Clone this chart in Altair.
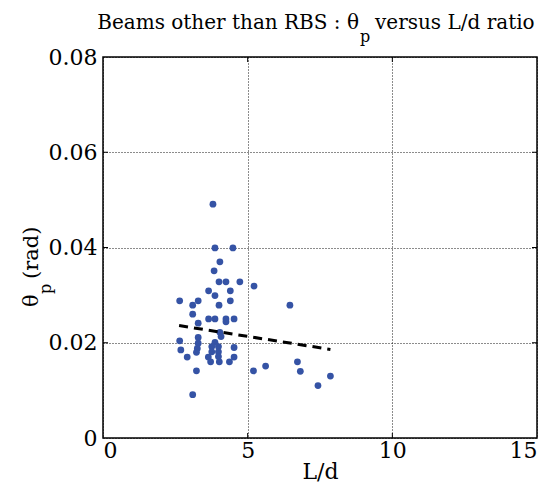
import altair as alt
import pandas as pd

# Scatter data (L/d, theta_p)
ld = [3.80, 3.87, 4.49, 4.04, 3.84, 4.01, 4.25, 4.73, 5.22, 3.65,
      3.87, 4.40, 2.65, 3.10, 3.29, 4.01, 4.40, 6.46, 3.10, 3.65,
      3.87, 4.25, 4.25, 4.53, 3.29, 4.04, 3.29, 2.65, 3.29, 3.26,
      3.23, 2.69, 2.91, 4.08, 3.87, 3.76, 3.99, 3.76, 3.99, 3.64,
      3.72, 4.02, 3.99, 4.53, 4.53, 4.37, 3.23, 5.20, 5.62, 6.72,
      6.82, 7.86, 7.43, 3.10]
theta = [0.0491, 0.0399, 0.0399, 0.0370, 0.0351, 0.0328, 0.0328, 0.0328, 0.0319, 0.0309,
         0.0299, 0.0309, 0.0288, 0.0279, 0.0288, 0.0279, 0.0288, 0.0279, 0.0260, 0.0250,
         0.0250, 0.0250, 0.0244, 0.0250, 0.0241, 0.0222, 0.0211, 0.0204, 0.0199, 0.0188,
         0.0180, 0.0185, 0.0170, 0.0213, 0.0201, 0.0192, 0.0192, 0.0181, 0.0181, 0.0170,
         0.0160, 0.0160, 0.0171, 0.0190, 0.0170, 0.0160, 0.0141, 0.0141, 0.0151, 0.0160,
         0.0140, 0.0130, 0.0110, 0.0091]

# Trend line
trend_x = [2.63, 7.86]
trend_y = [0.0236, 0.0186]

x_ticks = [0, 5, 10, 15]
y_ticks = [0, 0.02, 0.04, 0.06, 0.08]

W, H = 434, 381
FONT = "DejaVu Serif"

pts = pd.DataFrame({"x": ld, "y": theta})
trend = pd.DataFrame({"x": trend_x, "y": trend_y})

xs = alt.Scale(domain=[0, 15], nice=False)
ys = alt.Scale(domain=[0, 0.08], nice=False)

xaxis = alt.Axis(values=x_ticks, grid=True, gridColor="black", gridDash=[1, 2],
                 gridOpacity=0.9, ticks=False, domain=False,
                 labelFont=FONT, labelFontSize=22, labelColor="black", labelPadding=2,
                 title="L/d", titleFont=FONT, titleFontSize=22, titleFontWeight="normal",
                 titleColor="black", titlePadding=0)
yaxis = alt.Axis(values=y_ticks, grid=True, gridColor="black", gridDash=[1, 2],
                 gridOpacity=0.9, ticks=False, domain=False,
                 labelFont=FONT, labelFontSize=22, labelColor="black", labelPadding=6,
                 labelExpr="datum.value == 0 ? '0' : format(datum.value, '.2f')",
                 title=None)

points = alt.Chart(pts).mark_circle(size=46, color="#3553a5", opacity=1).encode(
    x=alt.X("x:Q", scale=xs, axis=xaxis),
    y=alt.Y("y:Q", scale=ys, axis=yaxis),
)

line = alt.Chart(trend).mark_line(color="black", strokeWidth=3, strokeDash=[9, 6]).encode(
    x=alt.X("x:Q", scale=xs),
    y=alt.Y("y:Q", scale=ys),
)

# inward ticks
tick_df_x = pd.DataFrame({"x": x_ticks[1:-1]})
tick_df_y = pd.DataFrame({"y": y_ticks[1:-1]})
tb = alt.Chart(tick_df_x).mark_rule(color="black", strokeWidth=1).encode(
    x=alt.X("x:Q", scale=xs), y=alt.value(H), y2=alt.value(H - 5))
tt = alt.Chart(tick_df_x).mark_rule(color="black", strokeWidth=1).encode(
    x=alt.X("x:Q", scale=xs), y=alt.value(0), y2=alt.value(5))
tl = alt.Chart(tick_df_y).mark_rule(color="black", strokeWidth=1).encode(
    y=alt.Y("y:Q", scale=ys), x=alt.value(0), x2=alt.value(5))
tr = alt.Chart(tick_df_y).mark_rule(color="black", strokeWidth=1).encode(
    y=alt.Y("y:Q", scale=ys), x=alt.value(W), x2=alt.value(W - 5))

def txt(s, x, y, size, align="left", angle=0):
    return alt.Chart(pd.DataFrame({"t": [s]})).mark_text(
        font=FONT, fontSize=size, color="black", align=align, baseline="alphabetic",
        angle=angle).encode(text="t:N", x=alt.value(x), y=alt.value(y))

title1 = txt("Beams other than RBS : θ", 256, -28, 20, align="right")
title_sub = txt("p", 257, -15, 16)
title2 = txt("versus L/d ratio", 272, -28, 20)

ylab1 = txt("θ", -65, 250, 21, angle=270)
ylab_sub = txt("p", -52, 237, 16, angle=270)
ylab2 = txt("(rad)", -65, 222, 21, angle=270)

chart = alt.layer(points, line, tb, tt, tl, tr, title1, title_sub, title2,
                  ylab1, ylab_sub, ylab2).properties(
    width=W, height=H,
    autosize=alt.AutoSizeParams(type="none"),
    padding={"left": 103, "top": 57, "right": 13, "bottom": 57},
    background="white",
).configure_view(stroke="black", strokeWidth=1.5)

chart.save("out.html", embed_options={"renderer": "svg", "actions": False})
